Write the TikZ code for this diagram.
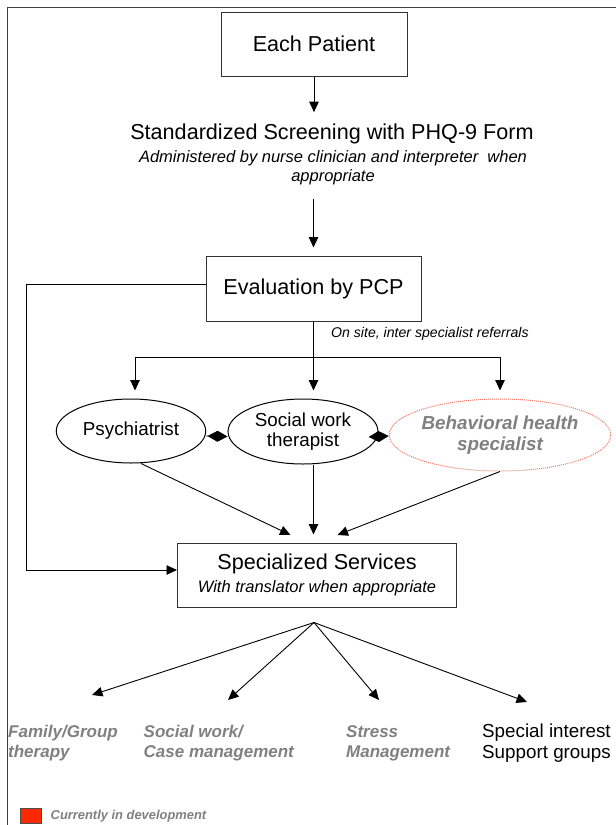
\documentclass[tikz,border=0pt]{standalone}
\usepackage{fontspec}
\setmainfont{Liberation Sans}
\usetikzlibrary{arrows.meta,shapes.geometric}
\definecolor{devgray}{RGB}{128,128,128}
\definecolor{devred}{RGB}{255,40,0}
\definecolor{dotred}{RGB}{240,120,100}
\newcommand{\bigfont}{\fontsize{21.6}{25}\selectfont}
\newcommand{\midfont}{\fontsize{18.8}{20.5}\selectfont}
\newcommand{\notefont}{\fontsize{16.5}{19}\selectfont\itshape}
\newcommand{\devfont}{\fontsize{17}{20}\selectfont\bfseries\itshape}

\begin{document}
\begin{tikzpicture}
                [x=1pt,y=-1pt,
                box/.style={rectangle,draw=black!80,line width=1pt,inner sep=0pt,font=\bigfont},
                oval/.style={ellipse,draw=black,line width=1pt,inner sep=0pt,align=center,font=\midfont},
                arrow/.style={-{Triangle[length=10.5pt,width=9.5pt]},line width=0.9pt},
                gap/.style={shorten >=8pt},
                diam/.style={-{Diamond[length=20pt,width=11pt]},line width=0.9pt},
                devtext/.style={align=left,anchor=west,inner sep=0pt,text=devgray,font=\devfont},
                ]
                \useasboundingbox (0,0) rectangle (616,825);
                \draw[line width=1pt,black!75] (616,7) -- (7,7) -- (7,825);
                \node[box,minimum width=186pt,minimum height=64pt] (patient) at (314,44) {Each Patient};
                \node[inner sep=0pt,anchor=base,font=\bigfont] (screen) at (332,139) {Standardized Screening with PHQ-9 Form};
                \node[inner sep=0pt,anchor=north,align=center,font=\notefont] (screennote) at (333,150) {Administered by nurse clinician and interpreter\ \ when\\appropriate};
                \node[box,minimum width=215pt,minimum height=65pt] (eval) at (313.5,288.5) {Evaluation by PCP};
                \node[inner sep=0pt,anchor=west,font=\fontsize{14.1}{16}\selectfont\itshape] (onsite) at (331,334) {On site, inter specialist referrals};
                \path (eval.south) ++(0,36) coordinate (split);
                \node[oval,minimum width=149.5pt,minimum height=64pt] (psy) at (131,431) {Psychiatrist};
                \node[oval,minimum width=150pt,minimum height=65pt] (soc) at (303,431.5) {Social work\\therapist};
                \node[oval,draw=dotred,densely dotted,minimum width=200pt,minimum height=72pt,text=devgray,font=\midfont\bfseries\itshape] (beh) at (500,435) {Behavioral health\\specialist};
                \node[box,minimum width=279pt,minimum height=64pt,align=center] (spec) at (317,575) {Specialized Services\\[-2pt]{\notefont With translator when appropriate}};

                \draw[arrow,shorten >=11pt] (patient) -- (patient |- screen.north);
                \draw[arrow,gap,shorten <=14pt] (screennote.south -| eval.north) -- (eval.north);
                \draw[line width=0.9pt] (eval) -- (split);
                \draw[arrow,gap] (split) -- (split |- soc.north);
                \draw[arrow,gap] (split) -| ([xshift=4pt]psy.north);
                \draw[arrow,gap] (split) -| (beh.north);
                \draw[diam] ([yshift=-5pt]psy.east) -- ([yshift=-5pt]soc.west);
                \draw[diam] ([yshift=-5pt]soc.east) -- ([yshift=-1pt]beh.west);

                \coordinate (inpsy) at (290.5,535);
                \coordinate (inbeh) at (337.5,535);
                \draw[arrow] ([xshift=10pt]psy.south) -- (inpsy);
                \draw[arrow,gap] (soc.south -| split) -- (spec.north -| split);
                \draw[arrow] (beh.south) -- (inbeh);
                \draw[arrow] ([yshift=4.5pt]eval.west) -- ++(-179,0) |- ([yshift=5pt]spec.west);

                \path (spec.south) ++(-3,15) coordinate (fan);
                \foreach \name/\x/\y in {tofam/92/695,tosoc/228/700,tostress/379/700,tosupport/527/702}{
                    \coordinate (\name) at (\x,\y);
                    \draw[arrow] (fan) -- (\name);
                }
                \node[devtext] (fam) at (8,743) {Family/Group\\therapy};
                \node[devtext] (casemgmt) at (143.5,743) {Social work/\\Case management};
                \node[devtext] (stress) at (346,743) {Stress\\Management};
                \node[align=left,anchor=west,inner sep=0pt,font=\midfont] (support) at (482,743) {Special interest\\Support groups};

                \node[rectangle,draw=black!70,fill=devred,minimum width=21pt,minimum height=15pt,inner sep=0pt] (legbox) at (30.5,815.5) {};
                \node[anchor=west,inner sep=0pt,text=devgray,font=\fontsize{12.9}{15}\selectfont\bfseries\itshape] (legtext) at (50.5,816) {Currently in development};
            \end{tikzpicture}
\end{document}
